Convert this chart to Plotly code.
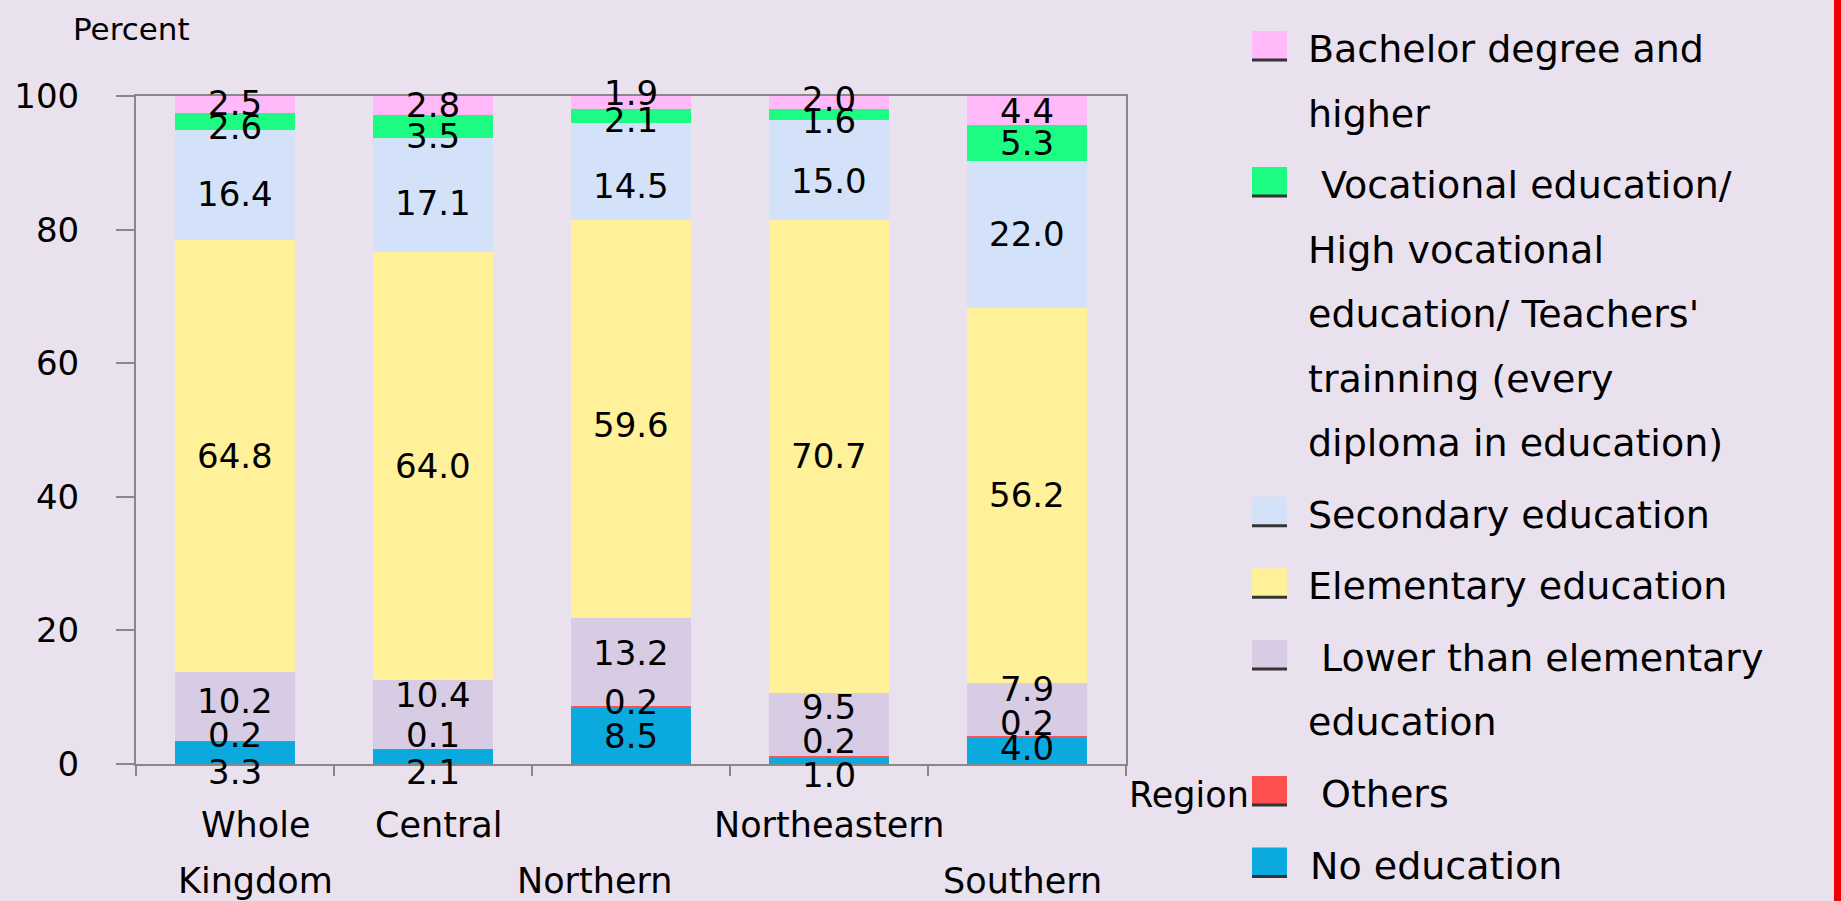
import plotly.graph_objects as go

# ---------------- data ----------------
regions = ["Whole Kingdom", "Central", "Northern", "Northeastern", "Southern"]
tick_labels = ["Whole<br>Kingdom", "Central", "<br>Northern", "Northeastern", "<br>Southern"]

no_education = [3.3, 2.1, 8.5, 1.0, 4.0]
others = [0.2, 0.1, 0.2, 0.2, 0.2]
lower_elementary = [10.2, 10.4, 13.2, 9.5, 7.9]
elementary = [64.8, 64.0, 59.6, 70.7, 56.2]
secondary = [16.4, 17.1, 14.5, 15.0, 22.0]
vocational = [2.6, 3.5, 2.1, 1.6, 5.3]
bachelor = [2.5, 2.8, 1.9, 2.0, 4.4]

y_ticks = [0, 20, 40, 60, 80, 100]

# stacking order bottom -> top
series_names = ["No education", "Others", "Lower than elementary<br>education", "Elementary education",
                "Secondary education",
                "Vocational education/<br>High vocational<br>education/ Teachers'<br>trainning (every<br>diploma in education)",
                "Bachelor degree and<br>higher"]
series_values = [no_education, others, lower_elementary, elementary, secondary, vocational, bachelor]
series_colors = ["#0AAADF", "#FF5050", "#D8CCE4", "#FFF09A", "#D3E2F9", "#1CFC82", "#FFB9F8"]

# ---------------- style / layout constants ----------------
BG = "#EAE1EE"
FONT = "DejaVu Sans"
W, H = 1841, 901
PL, PR, PT, PB = 136, 1126, 96, 764   # plot area in pixels


def px_x(px):
    return (px - PL) / (PR - PL)


def px_y(py):
    return (PB - py) / (PB - PT)


# vertical nudges (pixels) for crowded value labels: (series index, region index) -> shift
label_shift = {
    (0, 0): -19, (1, 0): 6, (2, 0): 6, (4, 0): -9, (5, 0): -6, (6, 0): 1,
    (0, 1): -15, (1, 1): 15, (2, 1): 20, (4, 1): -8, (5, 1): -10,
    (1, 2): 5, (2, 2): 9, (3, 2): -6, (4, 2): -15, (5, 2): -4, (6, 2): 9,
    (0, 3): -14, (1, 3): 16, (2, 3): 17, (4, 3): -11, (5, 3): -6, (6, 3): 4,
    (0, 4): 3, (1, 4): 14, (2, 4): 21,
}
# horizontal nudges for category labels (pixels)
cat_xshift = [20, 5, -37, 0, -5]

fig = go.Figure()
for name, vals, col in zip(series_names, series_values, series_colors):
    fig.add_trace(go.Bar(
        x=regions, y=vals, name=name.replace("<br>", " "),
        marker=dict(color=col, line=dict(width=0)),
        showlegend=False,
    ))

annotations = []
# value labels centred on each segment
base = [0.0] * len(regions)
for si, vals in enumerate(series_values):
    for ri, v in enumerate(vals):
        annotations.append(dict(
            x=regions[ri], y=base[ri] + v / 2, xref="x", yref="y",
            text=f"{v:.1f}", showarrow=False,
            font=dict(family=FONT, size=34, color="black"),
            yshift=label_shift.get((si, ri), 0),
        ))
        base[ri] += v

# category labels in two staggered rows
row_y = [825, 881]
for ri, lab in enumerate(tick_labels):
    for li, line in enumerate(lab.split("<br>")):
        if not line:
            continue
        annotations.append(dict(
            x=regions[ri], y=px_y(row_y[li]), xref="x", yref="paper",
            text=line, showarrow=False, xshift=cat_xshift[ri],
            font=dict(family=FONT, size=35, color="black"), yanchor="middle",
        ))

# axis titles
annotations.append(dict(x=px_x(131), y=px_y(29), xref="paper", yref="paper", text="Percent",
                        showarrow=False, font=dict(family=FONT, size=31, color="black"),
                        xanchor="center", yanchor="middle"))
annotations.append(dict(x=px_x(1251), y=px_y(795), xref="paper", yref="paper", text="Region",
                        showarrow=False, font=dict(family=FONT, size=35, color="black"),
                        xanchor="right", yanchor="middle"))

# custom legend (top entry first)
shapes = []
legend_order = list(range(len(series_names)))[::-1]
first_indent = {6: 0, 5: 13, 4: 0, 3: 0, 2: 13, 1: 13, 0: 2}
y_cur = 49
LINE_STEP, ITEM_STEP = 64.5, 71.6
for k, si in enumerate(legend_order):
    if k > 0:
        y_cur += ITEM_STEP
    lines = series_names[si].split("<br>")
    my = y_cur - 3
    shapes.append(dict(type="rect", xref="paper", yref="paper",
                       x0=px_x(1252), x1=px_x(1287), y0=px_y(my + 15), y1=px_y(my - 15),
                       fillcolor=series_colors[si], line=dict(width=0), layer="above"))
    shapes.append(dict(type="line", xref="paper", yref="paper",
                       x0=px_x(1252), x1=px_x(1287), y0=px_y(my + 14), y1=px_y(my + 14),
                       line=dict(color="#333333", width=3), layer="above"))
    for li, line in enumerate(lines):
        if li > 0:
            y_cur += LINE_STEP
        xoff = first_indent[si] if li == 0 else 0
        annotations.append(dict(
            x=px_x(1306 + xoff), y=px_y(y_cur), xref="paper", yref="paper",
            text=line, showarrow=False, xanchor="left", yanchor="middle",
            font=dict(family=FONT, size=38, color="black"),
        ))

# red strip at right edge
shapes.append(dict(type="rect", xref="paper", yref="paper",
                   x0=px_x(1834), x1=px_x(1850), y0=px_y(H + 10), y1=px_y(-10),
                   fillcolor="#F00000", line=dict(width=0), layer="above"))

fig.update_layout(
    width=W, height=H,
    barmode="stack", bargap=0.39,
    paper_bgcolor=BG, plot_bgcolor=BG,
    margin=dict(l=PL, r=W - PR, t=PT, b=H - PB, pad=0),
    font=dict(family=FONT, color="black"),
    annotations=annotations, shapes=shapes,
    showlegend=False,
)
fig.update_xaxes(
    showticklabels=False, ticks="outside", tickson="boundaries", ticklen=10,
    tickcolor="#888888", tickwidth=1.5,
    showline=True, linecolor="#888888", linewidth=2, mirror=True,
    showgrid=False, zeroline=False,
)
fig.update_yaxes(
    range=[0, 100], tickvals=y_ticks, ticks="outside", ticklen=18,
    tickcolor="#888888", tickwidth=1.5, ticklabelstandoff=30,
    tickfont=dict(family=FONT, size=34, color="black"),
    showline=True, linecolor="#888888", linewidth=2, mirror=True,
    showgrid=False, zeroline=False,
)

fig.write_html("out.html", config={"displayModeBar": False},
               post_script="document.body.style.margin='0';document.body.style.overflow='hidden';")
